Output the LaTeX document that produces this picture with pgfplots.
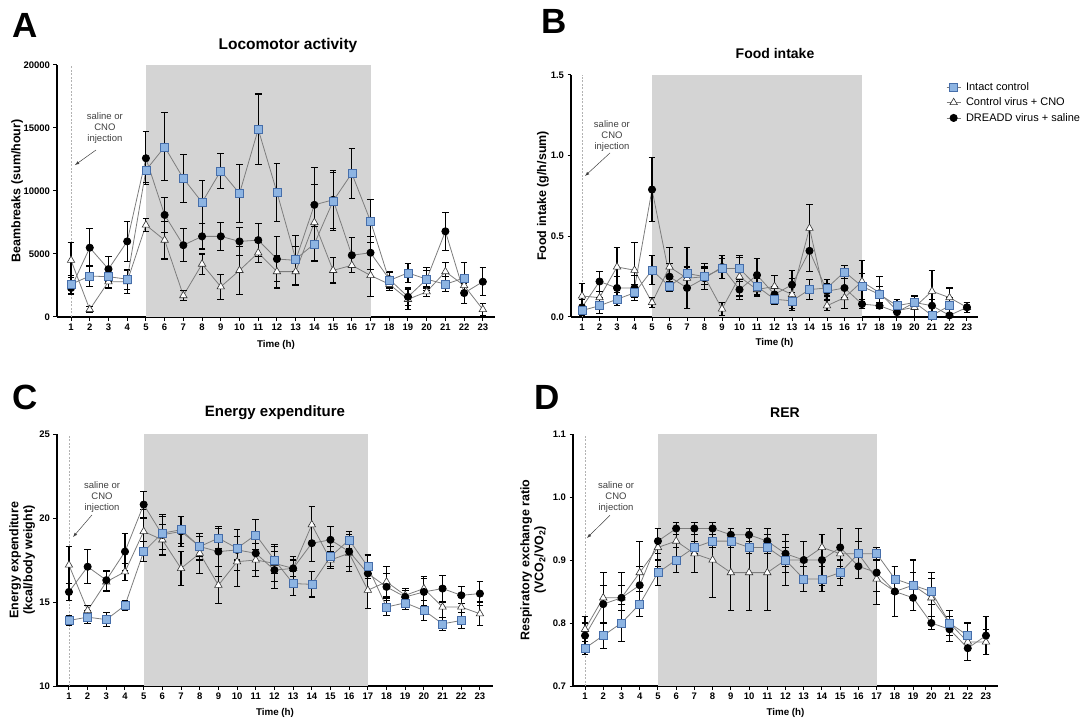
\documentclass[border=0pt]{standalone}
\usepackage{fontspec}
\setmainfont{Liberation Sans}
\usepackage{pgfplots}
\usepackage{pgfplotstable}
\pgfplotsset{compat=1.18}

\definecolor{sqfill}{RGB}{141,180,226}
\definecolor{sqdraw}{RGB}{70,110,170}
\definecolor{lin}{RGB}{125,125,125}
\definecolor{shade}{RGB}{212,212,212}

\pgfplotstableread{
x sq sqE tr trE ci ciE
1 2600 700 4500 1400 2300 500
2 3250 800 600 200 5500 1500
3 3200 500 2800 500 3800 1000
4 3000 800 2800 900 6000 1600
5 11650 1000 7300 500 12600 2100
6 13500 2700 6100 1500 8100 1400
7 11000 1900 1700 400 5700 1300
8 9100 1700 4200 800 6400 1000
9 11600 1400 2400 1000 6400 1100
10 9800 2300 3700 1900 6000 1100
11 14900 2800 5100 800 6100 1300
12 9900 2300 3600 1300 4600 1800
13 4600 1000 3600 1000 4500 2000
14 5800 1400 7500 3000 8900 3000
15 9200 2300 3700 1000 9300 2300
16 11400 2000 4100 600 4900 1400
17 7600 1700 3300 1700 5100 1300
18 2900 600 2600 500 3000 600
19 3500 750 1400 800 1600 700
20 3000 700 2000 400 3000 900
21 2600 600 3600 700 6800 1500
22 3100 1200 2500 800 1900 800
23 nan nan 600 500 2800 1100
}\dataA

\pgfplotstableread{
x sq sqE tr trE ci ciE
1 0.04 0.02 0.13 0.08 0.06 0.05
2 0.07 0.05 0.12 0.10 0.22 0.06
3 0.11 0.04 0.31 0.12 0.18 0.07
4 0.15 0.05 0.29 0.17 0.18 0.08
5 0.29 0.09 0.09 0.03 0.79 0.20
6 0.19 0.03 0.31 0.12 0.25 0.08
7 0.27 0.04 0.24 0.19 0.18 0.13
8 0.25 0.05 0.25 0.08 0.24 0.07
9 0.30 0.06 0.05 0.04 0.31 0.07
10 0.30 0.08 0.25 0.12 0.17 0.06
11 0.19 0.05 0.17 0.04 0.26 0.10
12 0.11 0.03 0.19 0.07 0.14 0.05
13 0.10 0.05 0.14 0.10 0.20 0.09
14 0.17 0.06 0.55 0.15 0.41 0.13
15 0.18 0.05 0.07 0.03 0.16 0.05
16 0.28 0.04 0.12 0.07 0.18 0.06
17 0.19 0.08 0.22 0.13 0.08 0.03
18 0.14 0.05 0.15 0.10 0.07 0.02
19 0.07 0.04 0.04 0.04 0.03 0.03
20 0.09 0.04 0.06 0.07 0.09 0.04
21 0.01 0.01 0.16 0.13 0.07 0.04
22 0.07 0.05 0.12 0.06 0.01 0.01
23 nan nan 0.06 0.03 0.06 0.03
}\dataB

\pgfplotstableread{
x sq sqE tr trE ci ciE
1 13.9 0.3 17.2 1.1 15.6 0.5
2 14.1 0.4 14.5 0.3 17.1 1.0
3 13.95 0.4 16.2 0.6 16.3 0.6
4 14.8 0.3 16.8 0.5 18.0 1.1
5 18.0 0.6 19.2 1.3 20.8 0.8
6 19.1 1.0 18.7 0.9 19.0 1.2
7 19.3 0.8 17.0 1.0 19.2 0.9
8 18.3 0.6 17.9 1.2 18.3 0.8
9 18.8 0.6 16.0 1.1 18.0 1.5
10 18.2 0.7 17.4 1.5 18.1 1.2
11 19.0 0.9 17.5 1.0 17.9 1.0
12 17.5 0.8 17.3 1.1 16.9 1.1
13 16.1 0.7 17.0 0.5 17.0 0.7
14 16.05 0.75 19.6 1.1 18.5 1.1
15 17.7 0.6 17.5 0.5 18.7 0.8
16 18.7 0.5 17.9 1.1 18.0 0.9
17 17.1 0.7 15.7 1.1 16.7 1.1
18 14.7 0.5 16.2 0.9 15.9 0.8
19 14.95 0.4 15.4 0.4 15.3 0.4
20 14.5 0.6 15.8 0.7 15.6 0.8
21 13.7 0.4 14.7 1.2 15.8 0.8
22 13.9 0.5 14.7 0.8 15.4 0.5
23 nan nan 14.3 0.7 15.5 0.7
}\dataC

\pgfplotstableread{
x sq sqE tr trE ci ciE
1 0.76 0.01 0.79 0.02 0.78 0.02
2 0.78 0.02 0.84 0.04 0.83 0.03
3 0.80 0.03 0.84 0.04 0.84 0.02
4 0.83 0.02 0.88 0.05 0.86 0.03
5 0.88 0.02 0.92 0.03 0.93 0.02
6 0.90 0.02 0.93 0.03 0.95 0.01
7 0.92 0.01 0.91 0.03 0.95 0.01
8 0.93 0.01 0.90 0.06 0.95 0.01
9 0.93 0.01 0.88 0.06 0.94 0.01
10 0.92 0.01 0.88 0.06 0.94 0.01
11 0.92 0.01 0.88 0.06 0.93 0.02
12 0.90 0.02 0.90 0.04 0.91 0.02
13 0.87 0.02 0.90 0.03 0.90 0.03
14 0.87 0.02 0.92 0.02 0.90 0.04
15 0.88 0.02 0.91 0.04 0.92 0.03
16 0.91 0.02 0.91 0.04 0.89 0.02
17 0.91 0.01 0.87 0.04 0.88 0.03
18 0.87 0.02 0.85 0.04 0.85 0.04
19 0.86 0.02 0.86 0.04 0.84 0.02
20 0.85 0.02 0.84 0.04 0.80 0.01
21 0.80 0.02 0.80 0.02 0.79 0.02
22 0.78 0.02 0.77 0.03 0.76 0.02
23 nan nan 0.77 0.02 0.78 0.03
}\dataD

\tikzset{
  annot/.style={font=\fontsize{9.5}{11}\selectfont, align=center, text=black!75},
  arr/.style={-latex, black!75, line width=0.5pt},
}
\pgfplotsset{
  panel/.style={
    scale only axis, axis lines=left, axis line style={-, line width=1.2pt, black},
    xtick={1,...,23}, tick align=outside, major tick length=3.5pt,
    tick style={black, line width=1pt},
    tick label style={font=\fontsize{9.5}{10}\selectfont\bfseries},
    scaled y ticks=false,
    /pgf/number format/assume math mode=true,
    xlabel={Time (h)},
    xlabel style={font=\fontsize{9.8}{10}\selectfont\bfseries, at={(axis description cs:0.5,0)}, anchor=center},
    ylabel style={font=\fontsize{12.5}{14}\selectfont\bfseries, align=center, anchor=center},
  },
  sq/.style={lin, line width=0.8pt, mark=square*, mark size=4pt, mark options={solid, fill=sqfill, draw=sqdraw, line width=0.6pt}},
  tri/.style={lin, line width=0.8pt, mark=triangle*, mark size=4.3pt, mark options={solid, fill=white, draw=black!80, line width=0.6pt}},
  ci/.style={lin, line width=0.8pt, mark=*, mark size=3.6pt, mark options={solid, fill=black, draw=black}},
  eb/.style={/pgfplots/error bars/y dir=both, /pgfplots/error bars/y explicit,
    /pgfplots/error bars/error bar style={black, line width=1.1pt},
    /pgfplots/error bars/error mark options={rotate=90, mark size=3.3pt, line width=1.1pt, black}},
}

\begin{document}
\begin{tikzpicture}

% ---------------- A ----------------
\begin{axis}[panel, at={(57pt,404pt)}, anchor=south west, width=438pt, height=252pt,
  xmin=0.25, xmax=23.65, ymin=0, ymax=20000,
  ytick={0,5000,10000,15000,20000}, yticklabels={0,5000,10000,15000,20000},
  xlabel style={yshift=-28pt},
  ylabel={Beambreaks (sum/hour)}, ylabel style={at={(axis description cs:-0.091,0.5)}}]
\addplot[fill=shade, draw=none, forget plot] coordinates {(5,0) (5,20000) (17,20000) (17,0)} -- cycle;
\addplot[gray!60, dash pattern=on 2pt off 1.5pt, line width=0.6pt, forget plot] coordinates {(1,0) (1,20000)};
\addplot[tri, eb] table[x=x, y=tr, y error=trE] {\dataA};
\addplot[ci, eb] table[x=x, y=ci, y error=ciE] {\dataA};
\addplot[sq, eb] table[x=x, y=sq, y error=sqE] {\dataA};
\node[annot] at (axis cs:2.81,15000) {saline or\\CNO\\injection};
\draw[arr] (axis cs:2.33,13250) -- (axis cs:1.21,12060);
\end{axis}

% ---------------- B ----------------
\begin{axis}[panel, at={(571pt,404pt)}, anchor=south west, width=407pt, height=242pt,
  xmin=0.37, xmax=23.63, ymin=0, ymax=1.5,
  ytick={0,0.5,1,1.5}, yticklabels={0.0,0.5,1.0,1.5},
  xlabel style={yshift=-26pt},
  ylabel={Food intake (g/h/sum)}, ylabel style={at={(axis description cs:-0.069,0.5)}},
  legend style={at={(axis description cs:0.919,0.979)}, anchor=north west, draw=none, fill=none,
    font=\fontsize{11}{12}\selectfont, row sep=4pt, inner sep=1pt,
    nodes={inner sep=1pt, anchor=west}},
  legend cell align=left,
  legend image code/.code={\draw[mark repeat=2, mark phase=2, #1] plot coordinates {(0pt,0pt) (7pt,0pt) (14pt,0pt)};},
  /tikz/every odd column/.append style={column sep=4pt}]
\addplot[fill=shade, draw=none, forget plot] coordinates {(5,0) (5,1.5) (17,1.5) (17,0)} -- cycle;
\addplot[gray!60, dash pattern=on 2pt off 1.5pt, line width=0.6pt, forget plot] coordinates {(1,0) (1,1.5)};
\addplot[tri, eb, forget plot] table[x=x, y=tr, y error=trE] {\dataB};
\addplot[ci, eb, forget plot] table[x=x, y=ci, y error=ciE] {\dataB};
\addplot[sq, eb, forget plot] table[x=x, y=sq, y error=sqE] {\dataB};
\addlegendimage{sq}\addlegendentry{Intact control}
\addlegendimage{tri}\addlegendentry{Control virus + CNO}
\addlegendimage{ci}\addlegendentry{DREADD virus + saline}
\node[annot] at (axis cs:2.71,1.122) {saline or\\CNO\\injection};
\draw[arr] (axis cs:2.60,1.017) -- (axis cs:1.17,0.874);
\end{axis}

% ---------------- C ----------------
\begin{axis}[panel, at={(57pt,35pt)}, anchor=south west, width=436pt, height=252pt,
  xmin=0.36, xmax=23.7, ymin=10, ymax=25,
  ytick={10,15,20,25},
  xlabel style={yshift=-27pt},
  ylabel={Energy expenditure\\(kcal/body weight)}, ylabel style={at={(axis description cs:-0.080,0.5)}}]
\addplot[fill=shade, draw=none, forget plot] coordinates {(5,10) (5,25) (17,25) (17,10)} -- cycle;
\addplot[gray!60, dash pattern=on 2pt off 1.5pt, line width=0.6pt, forget plot] coordinates {(1,10) (1,25)};
\addplot[tri, eb] table[x=x, y=tr, y error=trE] {\dataC};
\addplot[ci, eb] table[x=x, y=ci, y error=ciE] {\dataC};
\addplot[sq, eb] table[x=x, y=sq, y error=sqE] {\dataC};
\node[annot] at (axis cs:2.77,21.25) {saline or\\CNO\\injection};
\draw[arr] (axis cs:2.23,20.18) -- (axis cs:1.22,18.87);
\end{axis}

% ---------------- D ----------------
\begin{axis}[panel, at={(573pt,35pt)}, anchor=south west, width=425pt, height=252pt,
  xmin=0.34, xmax=23.66, ymin=0.7, ymax=1.1,
  ytick={0.7,0.8,0.9,1.0,1.1}, yticklabels={0.7,0.8,0.9,1.0,1.1},
  xlabel style={yshift=-27pt},
  ylabel={Respiratory exchange ratio\\(VCO\textsubscript{2}/VO\textsubscript{2})}, ylabel style={at={(axis description cs:-0.094,0.5)}}]
\addplot[fill=shade, draw=none, forget plot] coordinates {(5,0.7) (5,1.1) (17,1.1) (17,0.7)} -- cycle;
\addplot[gray!60, dash pattern=on 2pt off 1.5pt, line width=0.6pt, forget plot] coordinates {(1,0.7) (1,1.1)};
\addplot[tri, eb] table[x=x, y=tr, y error=trE] {\dataD};
\addplot[ci, eb] table[x=x, y=ci, y error=ciE] {\dataD};
\addplot[sq, eb] table[x=x, y=sq, y error=sqE] {\dataD};
\node[annot] at (axis cs:2.70,1.0) {saline or\\CNO\\injection};
\draw[arr] (axis cs:2.37,0.971) -- (axis cs:1.11,0.935);
\end{axis}

% titles and panel letters
\node[font=\fontsize{15.5}{17}\selectfont\bfseries] at (288pt,676pt) {Locomotor activity};
\node[font=\fontsize{14}{16}\selectfont\bfseries] at (775pt,667pt) {Food intake};
\node[font=\fontsize{15}{17}\selectfont\bfseries] at (275pt,308pt) {Energy expenditure};
\node[font=\fontsize{14}{16}\selectfont\bfseries] at (785pt,308pt) {RER};
\node[font=\fontsize{35}{38}\selectfont\bfseries] at (25pt,696pt) {A};
\node[font=\fontsize{35}{38}\selectfont\bfseries] at (554pt,700pt) {B};
\node[font=\fontsize{35}{38}\selectfont\bfseries] at (25pt,324pt) {C};
\node[font=\fontsize{35}{38}\selectfont\bfseries] at (547pt,324pt) {D};

\pgfresetboundingbox
\useasboundingbox (0,0) rectangle (1089pt,721pt);
\end{tikzpicture}
\end{document}
